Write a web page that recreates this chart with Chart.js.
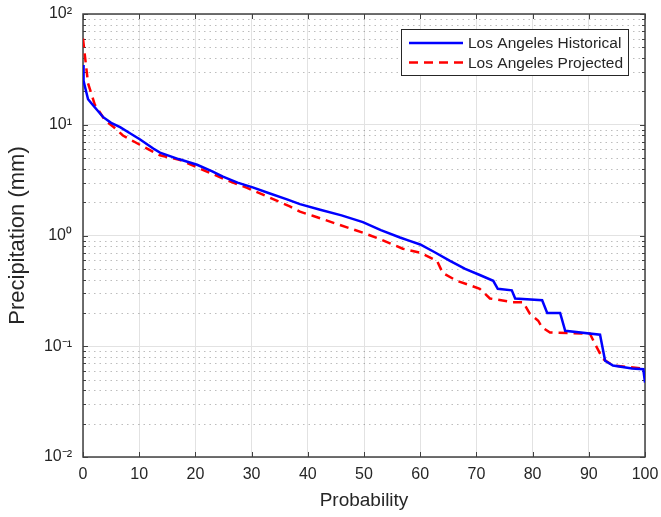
<!DOCTYPE html>
<html lang="en">
<head>
<meta charset="utf-8">
<title>Los Angeles Precipitation Exceedance</title>
<script src="https://cdn.jsdelivr.net/npm/chart.js@4/dist/chart.umd.min.js"></script>
<style>
  html, body { margin: 0; padding: 0; background: #fff; }
  #grafico { display: block; }
</style>
</head>
<body>
<canvas id="grafico" width="661" height="517"></canvas>
<script>
// ─── Dados ───────────────────────────────────────────────────────────────────

const xTicks = [0, 10, 20, 30, 40, 50, 60, 70, 80, 90, 100];
const yTicks = [0.01, 0.1, 1, 10, 100];
const yTickLabels = ['10\u207B\u00B2', '10\u207B\u00B9', '10\u2070', '10\u00B9', '10\u00B2'];

const histX = [0, 0.1, 0.35, 0.9, 1.6, 3.0, 3.6, 5, 6.6, 8.5, 10.1, 12.5, 13.7, 17, 20.3, 23, 24.9,
  27.5, 30.2, 33, 36.3, 38.6, 42.2, 46, 49.8, 53, 56.4, 58, 60, 62.5, 65.3, 68, 70.6, 73, 73.8,
  76.3, 76.9, 81.7, 82.6, 84.9, 85.8, 92, 92.9, 94.3, 97.7, 99.7, 100];
const histY = [34.6, 25, 22, 17, 15.4, 12.7, 11.7, 10.4, 9.5, 8.3, 7.4, 6.1, 5.6, 4.9, 4.35, 3.8, 3.4,
  3.0, 2.72, 2.42, 2.12, 1.92, 1.71, 1.52, 1.32, 1.12, 0.96, 0.9, 0.83, 0.71, 0.59, 0.5, 0.44, 0.39, 0.33,
  0.32, 0.27, 0.26, 0.2, 0.2, 0.138, 0.127, 0.074, 0.067, 0.063, 0.062, 0.047];

const projX = [0, 0.36, 0.9, 2.1, 3.9, 5.5, 7.1, 10.1, 13.7, 17.3, 21.4, 25.6, 29.2, 33.3, 36.8, 38.6,
  41, 45, 49.8, 53, 56.9, 60, 63, 64, 66.5, 68.5, 70.6, 72.4, 76.5, 78.3, 79.5, 81, 81.7, 83.1,
  90.2, 91.1, 92.5, 94.3, 99.6, 100];
const projY = [60, 41, 23.7, 15.2, 11, 9.5, 8.0, 6.6, 5.3, 4.8, 3.9, 3.16, 2.69, 2.19, 1.83, 1.64,
  1.5, 1.28, 1.06, 0.92, 0.76, 0.70, 0.59, 0.46, 0.39, 0.36, 0.33, 0.27, 0.25, 0.25, 0.197, 0.17, 0.148, 0.133,
  0.13, 0.105, 0.077, 0.067, 0.063, 0.06];

const FONTE = '"Liberation Sans", Arial, Helvetica, sans-serif';
const TEXTO = '#262626';

function pontos(xs, ys) {
  return xs.map((x, i) => ({ x, y: ys[i] }));
}

// ─── Eixos estilo MATLAB ─────────────────────────────────────────────────────

const eixosPlugin = {
  id: 'eixos',
  beforeDatasetsDraw(chart) {
    const { ctx, chartArea: { left, right, top, bottom }, scales: { x, y } } = chart;
    ctx.save();

    // grade menor pontilhada
    ctx.strokeStyle = 'rgba(38,38,38,0.3)';
    ctx.lineWidth = 1;
    ctx.setLineDash([1.5, 4]);
    for (let d = 0.01; d < 100; d *= 10) {
      for (let k = 2; k <= 9; k++) {
        const py = Math.round(y.getPixelForValue(d * k)) + 0.5;
        ctx.beginPath();
        ctx.moveTo(left, py);
        ctx.lineTo(right, py);
        ctx.stroke();
      }
    }
    ctx.setLineDash([]);

    // caixa
    ctx.strokeStyle = '#404040';
    ctx.lineWidth = 1.5;
    ctx.strokeRect(left, top, right - left, bottom - top);

    // marcas internas
    ctx.lineWidth = 1;
    ctx.beginPath();
    xTicks.forEach(v => {
      const px = Math.round(x.getPixelForValue(v)) + 0.5;
      ctx.moveTo(px, bottom); ctx.lineTo(px, bottom - 5);
      ctx.moveTo(px, top); ctx.lineTo(px, top + 5);
    });
    for (let d = 0.01; d <= 100; d *= 10) {
      for (let k = 1; k <= 9; k++) {
        const v = d * k;
        if (v > 100.0001) break;
        const py = Math.round(y.getPixelForValue(v)) + 0.5;
        const len = k === 1 ? 5 : 3;
        ctx.moveTo(left, py); ctx.lineTo(left + len, py);
        ctx.moveTo(right, py); ctx.lineTo(right - len, py);
      }
    }
    ctx.stroke();
    ctx.restore();
  },
  afterDraw(chart) {
    const { ctx, chartArea: { right, top } } = chart;
    const box = { left: right - 244, top: top + 15, width: 227, height: 46 };
    ctx.save();
    ctx.fillStyle = '#fff';
    ctx.fillRect(box.left, box.top, box.width, box.height);
    ctx.strokeStyle = '#262626';
    ctx.lineWidth = 1;
    ctx.strokeRect(box.left + 0.5, box.top + 0.5, box.width, box.height);

    ctx.font = '15.5px ' + FONTE;
    ctx.textBaseline = 'middle';
    ctx.fillStyle = TEXTO;
    chart.data.datasets.forEach((ds, i) => {
      const ly = box.top + 14 + i * 19.5;
      ctx.beginPath();
      ctx.strokeStyle = ds.borderColor;
      ctx.lineWidth = ds.borderWidth;
      ctx.setLineDash(ds.borderDash || []);
      ctx.moveTo(box.left + 8, ly);
      ctx.lineTo(box.left + 62, ly);
      ctx.stroke();
      ctx.setLineDash([]);
      ctx.fillText(ds.label, box.left + 67, ly + 1);
    });
    ctx.restore();
  },
};

// ─── Gráfico ─────────────────────────────────────────────────────────────────

const ctx = document.getElementById('grafico').getContext('2d');

new Chart(ctx, {
  type: 'scatter',
  plugins: [eixosPlugin],
  data: {
    datasets: [
      {
        label: 'Los Angeles Historical',
        data: pontos(histX, histY),
        showLine: true,
        borderColor: '#0000ff',
        borderWidth: 2.5,
        pointRadius: 0,
        tension: 0,
      },
      {
        label: 'Los Angeles Projected',
        data: pontos(projX, projY),
        showLine: true,
        borderColor: '#ff0000',
        borderWidth: 2.5,
        borderDash: [9, 6],
        pointRadius: 0,
        tension: 0,
      },
    ],
  },
  options: {
    responsive: false,
    animation: false,
    devicePixelRatio: 1,
    layout: { padding: { top: 14, right: 16, left: 0, bottom: 0 } },
    plugins: {
      legend: { display: false },
      tooltip: { enabled: false },
    },
    scales: {
      x: {
        type: 'linear',
        min: 0,
        max: 100,
        afterBuildTicks: (s) => { s.ticks = xTicks.map(v => ({ value: v })); },
        afterFit: (s) => { s.height = 60; s.paddingLeft = 0; s.paddingRight = 0; },
        ticks: { color: TEXTO, font: { family: FONTE, size: 16 }, padding: 8, maxRotation: 0 },
        grid: { color: '#e2e2e2', drawTicks: false },
        border: { display: false },
        title: {
          display: true,
          text: 'Probability',
          color: TEXTO,
          font: { family: FONTE, size: 19 },
          padding: { top: 0, bottom: 5 },
        },
      },
      y: {
        type: 'logarithmic',
        min: 0.01,
        max: 100,
        afterBuildTicks: (s) => { s.ticks = yTicks.map(v => ({ value: v })); },
        afterFit: (s) => { s.width = 83; s.paddingTop = 0; s.paddingBottom = 0; },
        ticks: {
          color: TEXTO,
          font: { family: FONTE, size: 16 },
          padding: 11,
          callback: (v) => {
            const i = yTicks.findIndex(t => Math.abs(t - v) / t < 1e-6);
            return i >= 0 ? yTickLabels[i] : '';
          },
        },
        grid: { color: '#e2e2e2', drawTicks: false },
        border: { display: false },
        title: {
          display: true,
          text: 'Precipitation (mm)',
          color: TEXTO,
          font: { family: FONTE, size: 22 },
          padding: { top: 5, bottom: 0 },
        },
      },
    },
  },
});
</script>
</body>
</html>
